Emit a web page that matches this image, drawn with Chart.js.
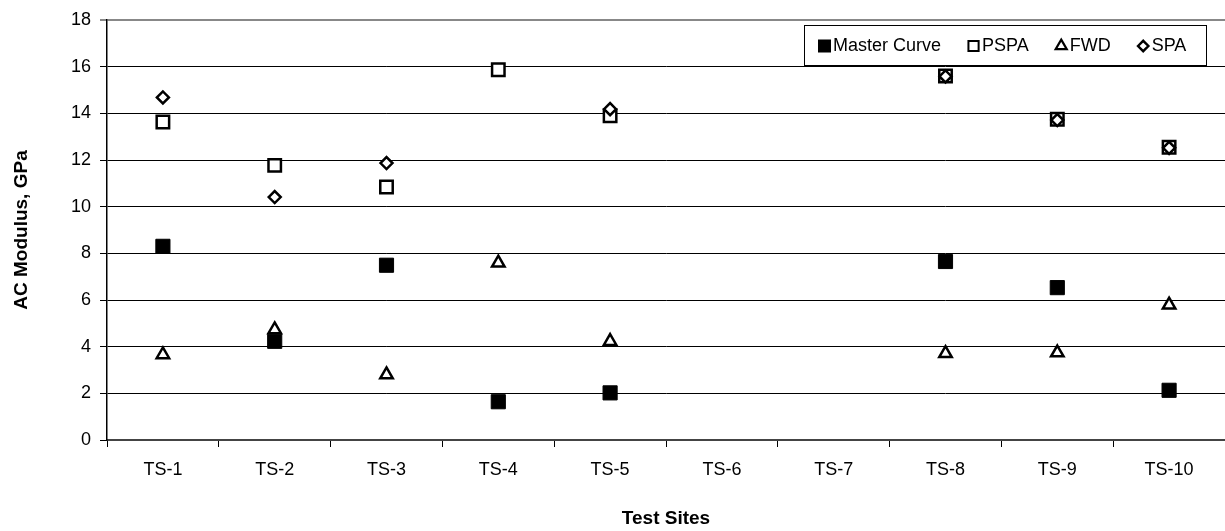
<!DOCTYPE html>
<html>
<head>
<meta charset="utf-8">
<script src="https://cdn.jsdelivr.net/npm/chart.js@4.4.1/dist/chart.umd.min.js"></script>
<style>
  html, body { margin: 0; padding: 0; background: #ffffff; }
  #wrap { width: 1225px; height: 531px; }
</style>
</head>
<body>
<div id="wrap"><canvas id="chart" width="1225" height="531"></canvas></div>
<script>
// Test sites along the x axis
const sites = ['TS-1', 'TS-2', 'TS-3', 'TS-4', 'TS-5', 'TS-6', 'TS-7', 'TS-8', 'TS-9', 'TS-10'];

// AC modulus (GPa) by method; null = not measured
const masterCurve = [8.30, 4.23, 7.49, 1.64, 2.02, null, null, 7.65, 6.53, 2.13];
const pspa        = [13.63, 11.77, 10.84, 15.87, 13.90, null, null, 15.60, 13.75, 12.55];
const fwd         = [3.66, 4.73, 2.80, 7.59, 4.23, null, null, 3.71, 3.74, 5.79];
const spa         = [14.68, 10.41, 11.87, null, 14.18, null, null, 15.58, 13.71, 12.52];

// Value axis range
const yMin = 0;
const yMax = 18;
const yStep = 2;

const FONT = '"Liberation Sans", Arial, Helvetica, sans-serif';

// Boxed legend drawn inside the plot, top right
const boxLegend = {
  id: 'boxLegend',
  afterDraw(chart, args, opts) {
    const ctx = chart.ctx;
    const b = opts.box;
    ctx.save();
    ctx.fillStyle = '#ffffff';
    ctx.fillRect(b.left, b.top, b.right - b.left, b.bottom - b.top);
    ctx.strokeStyle = '#000000';
    ctx.lineWidth = 1;
    ctx.strokeRect(b.left + 0.5, b.top + 0.5, b.right - b.left, b.bottom - b.top);

    ctx.font = opts.fontSize + 'px ' + FONT;
    ctx.textBaseline = 'middle';
    ctx.textAlign = 'left';
    const cy = (b.top + b.bottom) / 2 + 1;
    let x = opts.startX;
    chart.data.datasets.forEach((ds, i) => {
      const m = opts.marks[i];
      const sx = x + m.w / 2;
      ctx.fillStyle = ds.pointBackgroundColor;
      ctx.strokeStyle = ds.pointBorderColor;
      ctx.lineWidth = m.border;
      Chart.helpers.drawPoint(ctx, {
        pointStyle: ds.pointStyle,
        radius: m.r,
        borderWidth: m.border,
        rotation: 0
      }, sx, cy);
      ctx.fillStyle = '#000000';
      const tx = x + m.w + 2;
      ctx.fillText(ds.label, tx, cy);
      x = tx + ctx.measureText(ds.label).width + opts.gap;
    });
    ctx.restore();
  }
};

const ctx = document.getElementById('chart').getContext('2d');
new Chart(ctx, {
  type: 'line',
  data: {
    labels: sites,
    datasets: [
      {
        label: 'Master Curve',
        data: masterCurve,
        showLine: false,
        pointStyle: 'rect',
        pointRadius: 10,
        pointBorderWidth: 1,
        pointBackgroundColor: '#000000',
        pointBorderColor: '#000000',
        order: 3
      },
      {
        label: 'PSPA',
        data: pspa,
        showLine: false,
        pointStyle: 'rect',
        pointRadius: 8.8,
        pointBorderWidth: 2.5,
        pointBackgroundColor: '#ffffff',
        pointBorderColor: '#000000',
        order: 2
      },
      {
        label: 'FWD',
        data: fwd,
        showLine: false,
        pointStyle: 'triangle',
        pointRadius: 7.2,
        pointBorderWidth: 2.5,
        pointBackgroundColor: '#ffffff',
        pointBorderColor: '#000000',
        order: 1
      },
      {
        label: 'SPA',
        data: spa,
        showLine: false,
        pointStyle: 'rectRot',
        pointRadius: 6,
        pointBorderWidth: 2.5,
        pointBackgroundColor: '#ffffff',
        pointBorderColor: '#000000',
        order: 0
      }
    ]
  },
  options: {
    responsive: false,
    animation: false,
    devicePixelRatio: 1,
    layout: { autoPadding: false, padding: { top: 20, right: 0, bottom: 0, left: 0 } },
    plugins: {
      legend: { display: false },
      tooltip: { enabled: false },
      boxLegend: {
        box: { left: 804, top: 25, right: 1206, bottom: 65 },
        startX: 818,
        gap: 26,
        fontSize: 18,
        marks: [
          { w: 13, r: 9.2, border: 0 },
          { w: 13, r: 7.2, border: 2 },
          { w: 13, r: 6.4, border: 2.2 },
          { w: 13, r: 5.2, border: 2.4 }
        ]
      }
    },
    scales: {
      x: {
        type: 'category',
        offset: true,
        afterFit: (s) => { s.height = 91; },
        grid: {
          offset: true,
          drawOnChartArea: false,
          drawTicks: true,
          tickLength: 7,
          color: '#000000',
          lineWidth: 1
        },
        border: { display: true, color: '#444444', width: 2 },
        ticks: {
          color: '#000000',
          padding: 12,
          maxRotation: 0,
          autoSkip: false,
          font: { family: FONT, size: 18 }
        },
        title: {
          display: true,
          text: 'Test Sites',
          color: '#000000',
          padding: { top: 0, bottom: 1 },
          font: { family: FONT, size: 19, weight: 'bold' }
        }
      },
      y: {
        min: yMin,
        max: yMax,
        afterFit: (s) => { s.width = 107; },
        grid: {
          color: (c) => (c.tick && c.tick.value === yMax ? '#888888' : '#000000'),
          lineWidth: (c) => (c.tick && c.tick.value === yMax ? 2 : 1),
          drawTicks: true,
          tickLength: 7
        },
        border: { display: true, color: '#000000', width: 1.5 },
        ticks: {
          stepSize: yStep,
          color: '#000000',
          padding: 9,
          font: { family: FONT, size: 18 }
        },
        title: {
          display: true,
          text: 'AC Modulus, GPa',
          color: '#000000',
          padding: { top: 10, bottom: 0 },
          font: { family: FONT, size: 19, weight: 'bold' }
        }
      }
    }
  },
  plugins: [boxLegend]
});
</script>
</body>
</html>
